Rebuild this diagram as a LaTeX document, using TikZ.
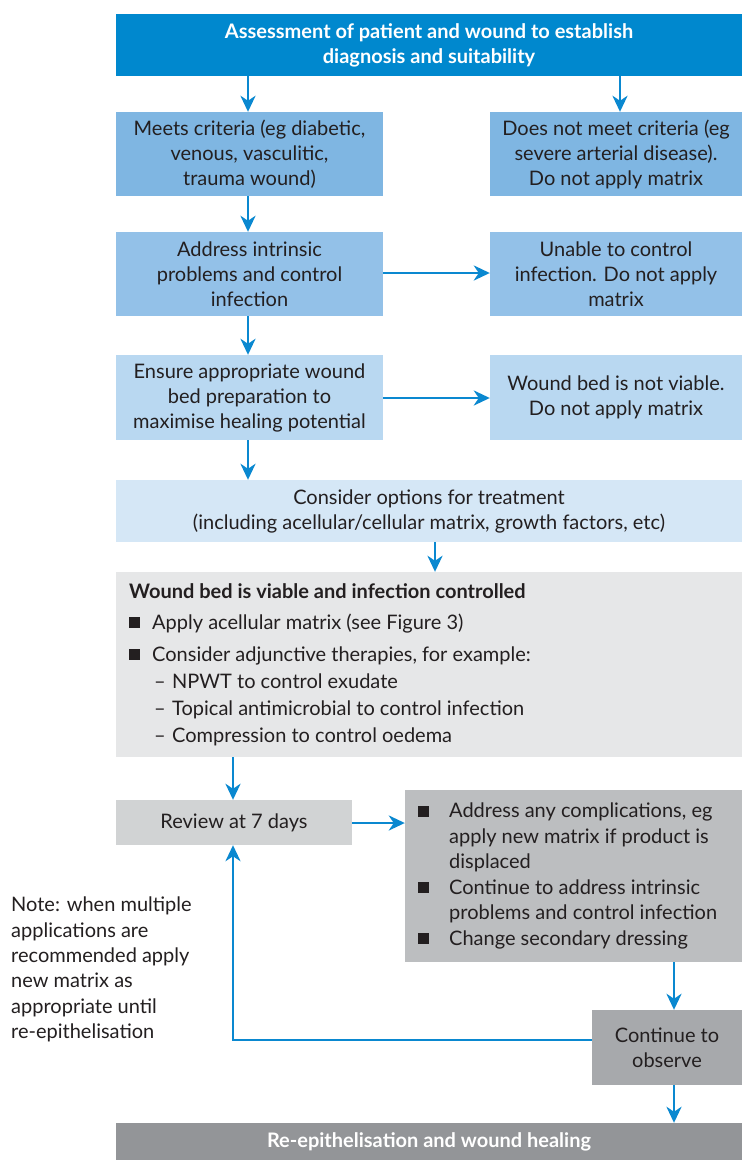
\documentclass[tikz,border=0pt]{standalone}
\usepackage{fontspec}
\setmainfont{Lato}
\usetikzlibrary{arrows.meta,calc}
\definecolor{cTop}{HTML}{0088CE}
\definecolor{cMeet}{HTML}{7FB6E2}
\definecolor{cAddr}{HTML}{93C1E8}
\definecolor{cEns}{HTML}{B9D8F1}
\definecolor{cCons}{HTML}{D5E7F6}
\definecolor{cGray}{HTML}{E6E7E8}
\definecolor{cRev}{HTML}{D1D3D4}
\definecolor{cComp}{HTML}{BCBEC0}
\definecolor{cObs}{HTML}{A7A9AC}
\definecolor{cHeal}{HTML}{939598}
\definecolor{cTxt}{HTML}{231F20}
\definecolor{cArr}{HTML}{0A88D0}
\newcommand{\sqb}{\rule[1pt]{11pt}{11pt}}
\tikzset{
  box/.style={rectangle, inner sep=0pt, align=center, text=cTxt,
    font=\fontsize{20}{25}\selectfont},
  arr/.style={draw=cArr, line width=2.7pt, -{Stealth[length=16pt,width=15pt,inset=5pt]}},
}
\begin{document}
\begin{tikzpicture}[x=1pt,y=-1pt]
\useasboundingbox (0,0) rectangle (742,1160);
\fill[white] (0,0) rectangle (742,1160);
% boxes
\node[box, fill=cTop, minimum width=626pt, minimum height=62pt, text=white, font=\fontsize{20}{25}\selectfont\bfseries] (top) at (429,45) {Assessment of patient and wound to establish\\diagnosis and suitability};
\node[box, fill=cMeet, minimum width=267pt, minimum height=84pt] (meets) at (249.5,154) {Meets criteria (eg diabetic,\\venous, vasculitic,\\trauma wound)};
\node[box, fill=cMeet, minimum width=252pt, minimum height=84pt] (notmeet) at (616,154) {Does not meet criteria (eg\\severe arterial disease).\\Do not apply matrix};
\node[box, fill=cAddr, minimum width=267pt, minimum height=84pt] (addr) at (249.5,274) {Address intrinsic\\problems and control\\infection};
\node[box, fill=cAddr, minimum width=252pt, minimum height=84pt] (unable) at (616,274) {Unable to control\\infection. Do not apply\\matrix};
\node[box, fill=cEns, minimum width=267pt, minimum height=85pt] (ensure) at (249.5,397.5) {Ensure appropriate wound\\bed preparation to\\maximise healing potential};
\node[box, fill=cEns, minimum width=252pt, minimum height=85pt] (notviable) at (616,397.5) {Wound bed is not viable.\\Do not apply matrix};
\node[box, fill=cCons, minimum width=626pt, minimum height=62pt] (consider) at (429,511) {Consider options for treatment\\(including acellular/cellular matrix, growth factors, etc)};
\node[box, fill=cGray, minimum width=626pt, minimum height=185pt] (gray) at (429,664.5) {};
\node[box, anchor=north west, align=left, font=\fontsize{20}{27}\selectfont] (graytxt) at (129,583) {%
\textbf{Wound bed is viable and infection controlled}\\[4pt]
\makebox[23pt][l]{\sqb}Apply acellular matrix (see Figure 3)\\[5pt]
\makebox[23pt][l]{\sqb}Consider adjunctive therapies, for example:\\
\hspace{25pt}\makebox[18pt][l]{--}NPWT to control exudate\\
\hspace{25pt}\makebox[18pt][l]{--}Topical antimicrobial to control infection\\
\hspace{25pt}\makebox[18pt][l]{--}Compression to control oedema};
\node[box, fill=cRev, minimum width=236pt, minimum height=45pt] (review) at (234,822.5) {Review at 7 days};
\node[box, fill=cComp, minimum width=337pt, minimum height=172pt] (comp) at (573.5,876) {};
\node[box, anchor=north west, align=left, font=\fontsize{20}{25.5}\selectfont] (comptxt) at (418,803) {%
\makebox[31pt][l]{\sqb}Address any complications, eg\\
\hspace{31pt}apply new matrix if product is\\
\hspace{31pt}displaced\\
\makebox[31pt][l]{\sqb}Continue to address intrinsic\\
\hspace{31pt}problems and control infection\\
\makebox[31pt][l]{\sqb}Change secondary dressing};
\node[box, fill=cObs, minimum width=150pt, minimum height=75pt] (observe) at (667,1047.5) {Continue to\\observe};
\node[box, fill=cHeal, minimum width=626pt, minimum height=37pt, text=white, font=\fontsize{20}{25}\selectfont\bfseries] (heal) at (429,1141.5) {Re-epithelisation and wound healing};
\node[box, anchor=north west, align=left, font=\fontsize{20}{25.3}\selectfont] (note) at (11,897) {Note: when multiple\\applications are\\recommended apply\\new matrix as\\appropriate until\\re-epithelisation};
% connectors
\draw[arr] (top.south -| 248,0) -- (meets.north -| 248,0);
\draw[arr] (top.south -| 620,0) -- (notmeet.north -| 620,0);
\draw[arr] (meets.south -| 248,0) -- (addr.north -| 248,0);
\draw[arr] (addr.east |- 0,273) -- (unable.west |- 0,273);
\draw[arr] (addr.south -| 248,0) -- (ensure.north -| 248,0);
\draw[arr] (ensure.east |- 0,398) -- (notviable.west |- 0,398);
\draw[arr] (ensure.south -| 248,0) -- (consider.north -| 248,0);
\draw[arr] (consider.south -| 435,0) -- (gray.north -| 435,0);
\draw[arr] (gray.south -| 233,0) -- (review.north -| 233,0);
\draw[arr] (review.east |- 0,823) -- (comp.west |- 0,823);
\draw[arr] (comp.south -| 674,0) -- (observe.north -| 674,0);
\draw[arr] (observe.south -| 674,0) -- (heal.north -| 674,0);
\draw[arr] (observe.west |- 0,1040) -| (review.south -| 233,0);
\end{tikzpicture}
\end{document}
